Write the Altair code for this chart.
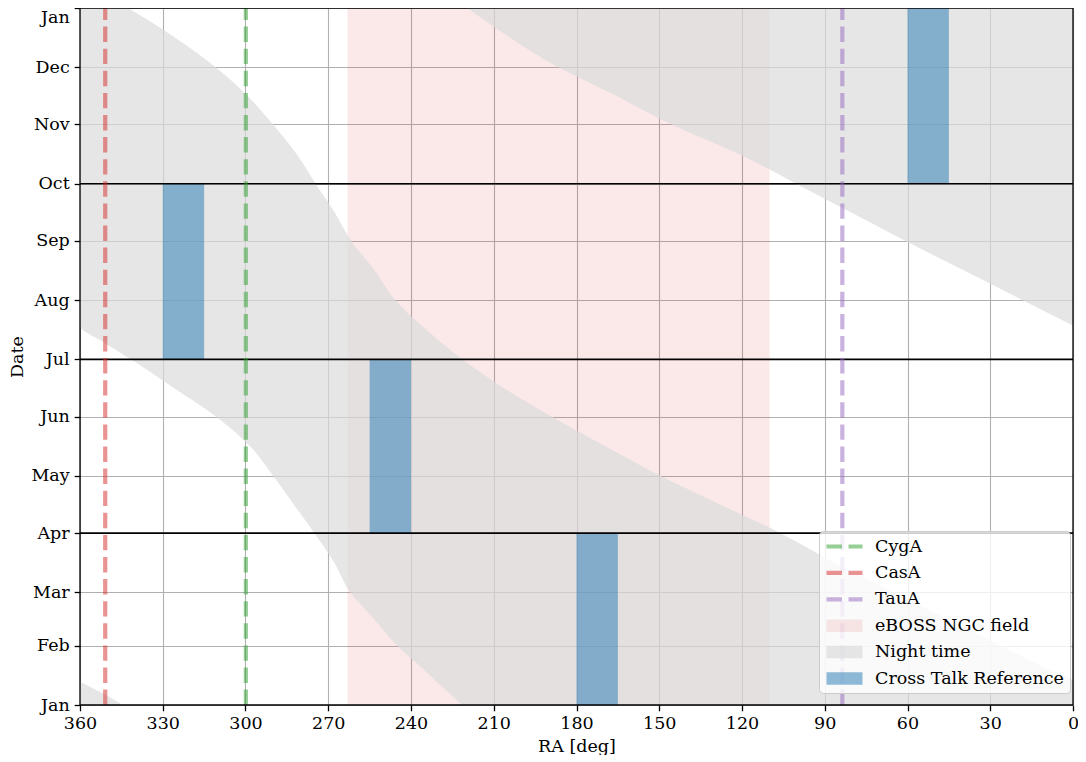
import json
import altair as alt
import pandas as pd

# ---------------- data ----------------
MONTHS = ["Jan", "Feb", "Mar", "Apr", "May", "Jun", "Jul", "Aug", "Sep", "Oct", "Nov", "Dec", "Jan"]
MONTH_DAYS = [0, 31, 59, 90, 120, 151, 181, 212, 243, 273, 304, 334, 365]
RA_TICKS = [360, 330, 300, 270, 240, 210, 180, 150, 120, 90, 60, 30, 0]
QUARTER_DAYS = [90, 181, 273]

SOURCES = ["CygA", "CasA", "TauA"]
SOURCE_RA = [299.87, 350.85, 83.63]

EBOSS_LABEL = "eBOSS NGC field"
EBOSS_RA = [110, 263]

NIGHT_LABEL = "Night time"
NIGHT_DAYS = [0, 6, 12.2, 20, 31, 45, 59, 75, 90, 105, 120, 135, 151, 166, 181,
              190, 198.7, 212, 228, 243, 258, 273, 288, 304, 320, 334, 350, 365]
NIGHT_DUSK_RA = [344.5, 351.6, 0, 11, 26, 45.5, 65, 87, 106, 128, 149.6, 168.8, 188.9, 206.4, 221.4,
                 229.2, 236.2, 245.7, 253.4, 261.7, 267.7, 274.6, 281.2, 290, 300, 310.8, 326, 342.5]
NIGHT_DAWN_RA = [221.5, 226, 230.7, 236.5, 245, 253.4, 262, 268, 275, 282.5, 290, 298, 310.6, 326, 341.5,
                 351.5, 360, 18.2, 40.2, 60.7, 80.6, 100.4, 120.4, 145.5, 166.9, 186.5, 204.6, 219.6]
DUSK_WRAP_DAY = 12.2
DAWN_WRAP_DAY = 198.7

XT_LABEL = "Cross Talk Reference"
XT_RA_LO = [165, 240, 315, 45]
XT_RA_HI = [180, 255, 330, 60]
XT_DAY_LO = [0, 90, 181, 273]
XT_DAY_HI = [90, 181, 273, 365]

LABELS = SOURCES + [EBOSS_LABEL, NIGHT_LABEL, XT_LABEL]
COLORS = ["#2ca02c", "#d62728", "#9467bd", "#d62728", "#dcdcdc", "#1f77b4"]
OPACITY = [0.5, 0.5, 0.5, 0.1, 0.7, 0.5]

DAY_MIN, DAY_MAX = 0, 365
RA_MIN, RA_MAX = 0, 360

# ---------------- tables ----------------
df_src = pd.DataFrame({"label": SOURCES, "ra": SOURCE_RA, "d0": DAY_MIN, "d1": DAY_MAX})
df_eboss = pd.DataFrame({"label": [EBOSS_LABEL], "ra0": [EBOSS_RA[0]], "ra1": [EBOSS_RA[1]],
                         "d0": [DAY_MIN], "d1": [DAY_MAX]})
df_xt = pd.DataFrame({"label": XT_LABEL, "ra0": XT_RA_LO, "ra1": XT_RA_HI,
                      "d0": XT_DAY_LO, "d1": XT_DAY_HI})

main_rows, early_rows, late_rows = [], [], []
for d, dusk, dawn in zip(NIGHT_DAYS, NIGHT_DUSK_RA, NIGHT_DAWN_RA):
    lo = RA_MIN if d <= DUSK_WRAP_DAY else dusk
    hi = dawn if d <= DAWN_WRAP_DAY else RA_MAX
    main_rows.append({"day": d, "ra0": lo, "ra1": hi})
    if d <= DUSK_WRAP_DAY:
        early_rows.append({"day": d, "ra0": dusk if d < DUSK_WRAP_DAY else RA_MAX, "ra1": RA_MAX})
    if d >= DAWN_WRAP_DAY:
        late_rows.append({"day": d, "ra0": RA_MIN, "ra1": dawn if d > DAWN_WRAP_DAY else RA_MIN})
night_pieces = [pd.DataFrame(r) for r in (main_rows, early_rows, late_rows)]

df_quarter = pd.DataFrame({"day": QUARTER_DAYS, "ra0": RA_MIN, "ra1": RA_MAX})
df_frame_h = pd.DataFrame({"day": [DAY_MIN, DAY_MAX], "ra0": RA_MIN, "ra1": RA_MAX})
df_frame_v = pd.DataFrame({"ra0": [RA_MIN, RA_MAX], "d0": DAY_MIN, "d1": DAY_MAX})

# ---------------- styling ----------------
FONT = "DejaVu Serif"
FS = 17.5
W, H = 993, 697

xs = alt.Scale(domain=[RA_MIN, RA_MAX], reverse=True, nice=False, zero=False)
ys = alt.Scale(domain=[DAY_MIN, DAY_MAX], nice=False, zero=False)
cs = alt.Scale(domain=LABELS, range=COLORS)

month_expr = "%s[indexof(%s, datum.value)]" % (json.dumps(MONTHS), json.dumps(MONTH_DAYS))

x_axis = alt.Axis(values=RA_TICKS, title="RA [deg]", grid=True, domain=False,
                  labelFlush=False, labelAngle=0, tickSize=5.8, tickWidth=1.3,
                  tickColor="black", labelPadding=4, titlePadding=5, format="d")
y_axis = alt.Axis(values=MONTH_DAYS, title="Date", grid=True, domain=False,
                  labelFlush=False, labelExpr=month_expr, tickSize=5.8, tickWidth=1.3,
                  tickColor="black", labelPadding=5, titlePadding=4,
                  labelOffset={"condition": {"test": "datum.value >= %d" % DAY_MAX, "value": 9.5},
                               "value": 0})

# legend symbols: nominal size 19 px (unit = 9.5 px), drawn 36 px wide
DASH_PATH = "M-1.895,-0.221H-0.263V0.221H-1.895Z M0.421,-0.221H1.895V0.221H0.421Z"
BOX_PATH = "M-1.895,-0.658H1.895V0.658H-1.895Z"
shape_expr = "indexof(%s, datum.value) < 3 ? '%s' : '%s'" % (json.dumps(LABELS), DASH_PATH, BOX_PATH)
op_expr = "%s[indexof(%s, datum.value)]" % (json.dumps(OPACITY), json.dumps(LABELS))

legend = alt.Legend(
    title=None, orient="none", legendX=739, legendY=523,
    labelFont=FONT, labelFontSize=FS, labelColor="black", labelLimit=500,
    symbolSize=361, symbolOffset=10, symbolType={"expr": shape_expr},
    symbolOpacity={"expr": op_expr}, symbolStrokeWidth=0,
    labelOffset=21, rowPadding=8.4, padding=6,
    fillColor="rgba(255,255,255,0.8)", strokeColor="#cccccc", cornerRadius=4,
)

X = lambda f: alt.X(f, scale=xs, axis=x_axis, title="RA [deg]")
Y = lambda f: alt.Y(f, scale=ys, axis=y_axis, title="Date")
C = alt.Color("label:N", scale=cs, legend=legend)

eboss = alt.Chart(df_eboss).mark_rect(opacity=0.1).encode(
    x=X("ra0:Q"), x2="ra1:Q", y=Y("d0:Q"), y2="d1:Q", color=C,
)

night_layers = [
    alt.Chart(df).mark_area(orient="horizontal", color=COLORS[4], opacity=0.7,
                            interpolate="monotone").encode(
        y=Y("day:Q"), x=X("ra0:Q"), x2="ra1:Q",
    )
    for df in night_pieces
]

xt = alt.Chart(df_xt).mark_rect(opacity=0.5).encode(
    x=X("ra0:Q"), x2="ra1:Q", y=Y("d0:Q"), y2="d1:Q", color=C,
)

quarters = alt.Chart(df_quarter).mark_rule(color="black", strokeWidth=1.6).encode(
    y=Y("day:Q"), x=X("ra0:Q"), x2="ra1:Q",
)

sources = alt.Chart(df_src).mark_rule(opacity=0.5, strokeWidth=4.2, strokeDash=[15.4, 6.7]).encode(
    x=X("ra:Q"), y=Y("d0:Q"), y2="d1:Q", color=C,
)

frame_h = alt.Chart(df_frame_h).mark_rule(color="black", strokeWidth=1.3).encode(
    y=Y("day:Q"), x=X("ra0:Q"), x2="ra1:Q",
)
frame_v = alt.Chart(df_frame_v).mark_rule(color="black", strokeWidth=1.3).encode(
    x=X("ra0:Q"), y=Y("d0:Q"), y2="d1:Q",
)

chart = alt.layer(eboss, *night_layers, xt, quarters, sources, frame_h, frame_v).properties(
    width=W, height=H,
    autosize=alt.AutoSizeParams(type="none"),
    padding={"left": 72, "top": 0, "right": 5, "bottom": 50},
).configure(
    font=FONT,
).configure_view(
    stroke=None,
).configure_axis(
    labelFont=FONT, titleFont=FONT, labelFontSize=FS, titleFontSize=FS,
    labelColor="black", titleColor="black", titleFontWeight="normal",
    gridColor="#b0b0b0", gridWidth=1.1, gridOpacity=1,
)

chart.save("out.html", embed_options={"renderer": "svg", "actions": False})
